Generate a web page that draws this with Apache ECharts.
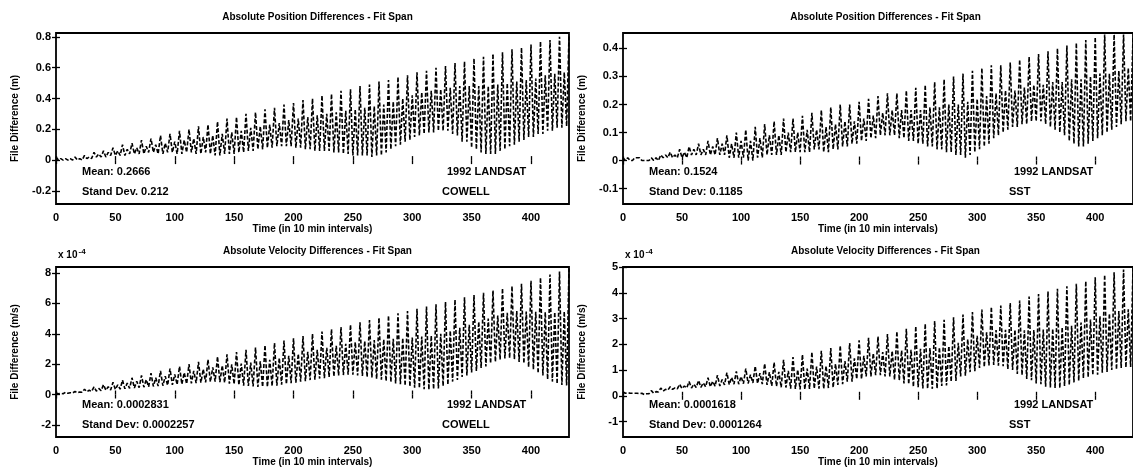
<!DOCTYPE html>
<html>
<head>
<meta charset="utf-8">
<script src="https://cdn.jsdelivr.net/npm/echarts@6/dist/echarts.min.js"></script>
<style>
html,body{margin:0;padding:0;background:#fff;}
#c{width:1133px;height:473px;}
</style>
</head>
<body>
<div id="c"></div>
<script>
// ---- data ----
const timeSteps = [0,2,4,6,8,10,12,14,16,18,20,22,24,26,28,30,32,34,36,38,40,42,44,46,48,50,52,54,56,58,60,62,64,66,68,70,72,74,76,78,80,82,84,86,88,90,92,94,96,98,100,102,104,106,108,110,112,114,116,118,120,122,124,126,128,130,132,134,136,138,140,142,144,146,148,150,152,154,156,158,160,162,164,166,168,170,172,174,176,178,180,182,184,186,188,190,192,194,196,198,200,202,204,206,208,210,212,214,216,218,220,222,224,226,228,230,232,234,236,238,240,242,244,246,248,250,252,254,256,258,260,262,264,266,268,270,272,274,276,278,280,282,284,286,288,290,292,294,296,298,300,302,304,306,308,310,312,314,316,318,320,322,324,326,328,330,332,334,336,338,340,342,344,346,348,350,352,354,356,358,360,362,364,366,368,370,372,374,376,378,380,382,384,386,388,390,392,394,396,398,400,402,404,406,408,410,412,414,416,418,420,422,424,426,428,430,432];

// position difference, COWELL (m)
const posCowell = [0.02,0.00,0.01,0.00, 0.01,0.00,0.01,0.00, 0.02,0.00,0.01,0.00, 0.03,0.01,0.02,0.01, 0.05,0.02,0.04,0.02, 0.06,0.02,0.05,0.03, 0.08,0.03,0.06,0.03, 0.10,0.03,0.07,0.04, 0.11,0.04,0.08,0.04, 0.13,0.04,0.09,0.05,
0.14,0.05,0.10,0.04, 0.16,0.04,0.11,0.05, 0.17,0.05,0.12,0.04, 0.19,0.04,0.13,0.05, 0.20,0.05,0.14,0.04, 0.22,0.04,0.15,0.05, 0.23,0.04,0.16,0.03, 0.25,0.03,0.17,0.04, 0.27,0.04,0.18,0.04, 0.28,0.05,0.19,0.05,
0.30,0.06,0.21,0.06, 0.31,0.07,0.22,0.07, 0.33,0.08,0.23,0.08, 0.34,0.09,0.24,0.09, 0.36,0.09,0.26,0.09, 0.37,0.08,0.27,0.08, 0.39,0.07,0.28,0.07, 0.40,0.06,0.29,0.06, 0.42,0.06,0.30,0.06, 0.43,0.05,0.31,0.05,
0.45,0.04,0.32,0.04, 0.46,0.03,0.33,0.03, 0.48,0.03,0.34,0.03, 0.49,0.02,0.35,0.03, 0.51,0.03,0.36,0.05, 0.52,0.07,0.38,0.09, 0.54,0.10,0.40,0.12, 0.55,0.13,0.42,0.15, 0.57,0.16,0.44,0.17, 0.58,0.18,0.45,0.18,
0.60,0.19,0.46,0.19, 0.61,0.19,0.47,0.17, 0.63,0.16,0.48,0.12, 0.64,0.12,0.48,0.08, 0.66,0.07,0.48,0.05, 0.67,0.04,0.48,0.04, 0.69,0.04,0.49,0.06, 0.70,0.07,0.50,0.09, 0.72,0.10,0.51,0.12, 0.73,0.13,0.52,0.15,
0.75,0.15,0.53,0.17, 0.77,0.17,0.55,0.19, 0.78,0.19,0.56,0.21, 0.80,0.21,0.57,0.22, 0.81];

// position difference, SST (m)
const posSst = [0.01,0.00,0.01,0.00, 0.00,0.01,0.01,0.01, 0.00,0.00,0.00,0.00, 0.01,0.00,0.01,0.00, 0.02,0.01,0.02,0.01, 0.03,0.01,0.02,0.01, 0.04,0.01,0.03,0.01, 0.05,0.02,0.04,0.02, 0.06,0.02,0.04,0.02, 0.07,0.02,0.05,0.02,
0.08,0.02,0.06,0.02, 0.09,0.01,0.06,0.01, 0.10,0.01,0.07,0.01, 0.11,0.00,0.07,0.00, 0.12,0.01,0.08,0.01, 0.13,0.02,0.09,0.02, 0.14,0.02,0.09,0.02, 0.15,0.03,0.10,0.03, 0.15,0.03,0.10,0.03, 0.16,0.03,0.11,0.03,
0.17,0.04,0.11,0.04, 0.18,0.03,0.12,0.03, 0.19,0.04,0.13,0.04, 0.20,0.05,0.14,0.05, 0.20,0.06,0.14,0.06, 0.21,0.07,0.15,0.07, 0.22,0.08,0.16,0.08, 0.23,0.09,0.17,0.09, 0.24,0.09,0.18,0.09, 0.24,0.08,0.18,0.08,
0.25,0.07,0.18,0.07, 0.26,0.06,0.18,0.06, 0.27,0.05,0.19,0.05, 0.28,0.04,0.19,0.04, 0.29,0.03,0.20,0.03, 0.30,0.02,0.20,0.02, 0.31,0.01,0.21,0.02, 0.32,0.03,0.22,0.04, 0.33,0.05,0.23,0.06, 0.34,0.08,0.24,0.09,
0.34,0.10,0.25,0.11, 0.35,0.12,0.25,0.12, 0.36,0.13,0.26,0.13, 0.37,0.14,0.27,0.14, 0.38,0.14,0.27,0.13, 0.39,0.12,0.28,0.11, 0.40,0.10,0.28,0.09, 0.41,0.07,0.29,0.06, 0.42,0.05,0.29,0.05, 0.43,0.06,0.30,0.07,
0.44,0.08,0.31,0.09, 0.45,0.10,0.31,0.11, 0.45,0.12,0.32,0.13, 0.45,0.14,0.33,0.14, 0.44];

// velocity difference, COWELL (x 1e-4 m/s)
const velCowell = [0.10,0.05,0.08,0.05, 0.15,0.08,0.12,0.10, 0.20,0.12,0.17,0.15, 0.35,0.18,0.28,0.20, 0.50,0.22,0.40,0.25, 0.65,0.28,0.52,0.30, 0.80,0.33,0.64,0.35, 0.95,0.38,0.75,0.40, 1.10,0.43,0.87,0.45, 1.25,0.48,0.98,0.50,
1.40,0.53,1.10,0.55, 1.55,0.58,1.21,0.60, 1.70,0.63,1.33,0.65, 1.85,0.68,1.44,0.70, 2.00,0.73,1.56,0.75, 2.15,0.78,1.67,0.80, 2.30,0.83,1.79,0.85, 2.50,0.82,1.91,0.78, 2.65,0.72,1.98,0.68, 2.80,0.62,2.04,0.58,
2.95,0.56,2.11,0.53, 3.10,0.50,2.19,0.50, 3.25,0.50,2.29,0.55, 3.40,0.58,2.41,0.65, 3.55,0.68,2.55,0.75, 3.70,0.78,2.68,0.85, 3.85,0.88,2.81,0.95, 4.00,0.98,2.94,1.05, 4.15,1.08,3.08,1.15, 4.30,1.18,3.21,1.25,
4.45,1.28,3.34,1.30, 4.60,1.30,3.45,1.25, 4.75,1.22,3.52,1.15, 4.90,1.12,3.58,1.02, 5.05,0.98,3.63,0.88, 5.20,0.82,3.67,0.72, 5.35,0.68,3.72,0.58, 5.50,0.52,3.76,0.45, 5.65,0.42,3.82,0.35, 5.80,0.32,3.88,0.35,
5.95,0.40,4.00,0.55, 6.10,0.65,4.20,0.85, 6.25,0.95,4.40,1.15, 6.40,1.25,4.60,1.45, 6.55,1.55,4.80,1.75, 6.70,1.85,5.00,2.05, 6.85,2.15,5.20,2.30, 7.00,2.38,5.38,2.40, 7.15,2.32,5.50,2.15, 7.30,2.05,5.46,1.80,
7.50,1.65,5.45,1.40, 7.70,1.25,5.44,1.00, 7.90,0.85,5.43,0.70, 8.10,0.62,5.48,0.60, 8.30];

// velocity difference, SST (x 1e-4 m/s)
const velSst = [0.15,0.10,0.12,0.10, 0.10,0.10,0.10,0.08, 0.10,0.05,0.08,0.08, 0.20,0.10,0.16,0.15, 0.30,0.18,0.25,0.22, 0.35,0.25,0.31,0.27, 0.45,0.28,0.38,0.30, 0.55,0.30,0.45,0.32, 0.60,0.33,0.50,0.35, 0.70,0.35,0.56,0.37,
0.80,0.38,0.63,0.42, 0.90,0.43,0.71,0.45, 0.95,0.45,0.75,0.47, 1.05,0.48,0.82,0.50, 1.15,0.48,0.88,0.45, 1.25,0.42,0.92,0.38, 1.30,0.37,0.93,0.33, 1.40,0.32,0.97,0.28, 1.50,0.27,1.01,0.25, 1.60,0.25,1.06,0.27,
1.70,0.28,1.13,0.28, 1.75,0.27,1.16,0.30, 1.85,0.32,1.24,0.42, 1.95,0.45,1.35,0.55, 2.05,0.55,1.45,0.65, 2.15,0.65,1.55,0.75, 2.25,0.75,1.65,0.80, 2.30,0.80,1.70,0.75, 2.40,0.75,1.74,0.62, 2.50,0.60,1.76,0.48,
2.60,0.45,1.79,0.35, 2.70,0.33,1.82,0.28, 2.80,0.27,1.85,0.27, 2.90,0.28,1.88,0.38, 2.95,0.40,1.93,0.55, 3.05,0.58,2.06,0.75, 3.15,0.78,2.20,0.92, 3.25,0.95,2.33,1.08, 3.35,1.12,2.46,1.18, 3.45,1.20,2.55,1.17,
3.50,1.15,2.56,1.03, 3.60,1.00,2.56,0.85, 3.70,0.80,2.54,0.65, 3.85,0.60,2.55,0.48, 3.95,0.45,2.57,0.35, 4.05,0.32,2.60,0.30, 4.15,0.30,2.66,0.38, 4.25,0.42,2.72,0.52, 4.35,0.58,2.84,0.68, 4.45,0.72,2.96,0.80,
4.60,0.82,3.09,0.90, 4.70,0.92,3.19,1.00, 4.80,1.02,3.29,1.08, 4.90,1.10,3.36,1.12, 4.95];

const xTicks = [0,50,100,150,200,250,300,350,400];
const posCowellTicks = [-0.2,0,0.2,0.4,0.6,0.8];
const posSstTicks = [-0.1,0,0.1,0.2,0.3,0.4];
const velCowellTicks = [-2,0,2,4,6,8];
const velSstTicks = [-1,0,1,2,3,4,5];

const titles = ['Absolute Position Differences - Fit Span','Absolute Position Differences - Fit Span',
                'Absolute Velocity Differences - Fit Span','Absolute Velocity Differences - Fit Span'];
const yNames = ['File Difference (m)','File Difference (m)','File Difference (m/s)','File Difference (m/s)'];
const meanTexts = ['Mean: 0.2666','Mean: 0.1524','Mean: 0.0002831','Mean: 0.0001618'];
const sdTexts = ['Stand Dev. 0.212','Stand Dev: 0.1185','Stand Dev: 0.0002257','Stand Dev: 0.0001264'];
const caseTexts = ['1992 LANDSAT','1992 LANDSAT','1992 LANDSAT','1992 LANDSAT'];
const methodTexts = ['COWELL','SST','COWELL','SST'];

// ---- layout ----
const panels = [
  {values: posCowell, ticks: posCowellTicks, min: -0.285, max: 0.825, left: 56, top: 33, width: 513, height: 171},
  {values: posSst, ticks: posSstTicks, min: -0.155, max: 0.455, left: 623, top: 33, width: 515, height: 171},
  {values: velCowell, ticks: velCowellTicks, min: -2.8, max: 8.4, left: 56, top: 267, width: 513, height: 170},
  {values: velSst, ticks: velSstTicks, min: -1.6, max: 5, left: 623, top: 267, width: 515, height: 170}
];
const FONT = 'Liberation Sans, Arial, sans-serif';
const xMax = 432;

const grid = [], xAxis = [], yAxis = [], series = [], title = [], graphic = [];
panels.forEach((p, i) => {
  grid.push({left: p.left, top: p.top, width: p.width, height: p.height, show: true,
             borderColor: '#000', borderWidth: 1.8, backgroundColor: 'transparent'});
});
const tickStyle = {color: '#000', width: 1.3};
panels.forEach((p, i) => {
  xAxis.push({gridIndex: i, type: 'value', min: 0, max: xMax, position: 'bottom',
    axisLine: {show: false},
    axisTick: {show: true, inside: true, length: 4, customValues: xTicks, lineStyle: tickStyle},
    axisLabel: {show: true, customValues: xTicks, color: '#000', fontFamily: FONT, fontSize: 11, fontWeight: 'bold', margin: 8,
                formatter: v => String(v)},
    splitLine: {show: false},
    name: 'Time (in 10 min intervals)', nameLocation: 'middle', nameGap: 20,
    nameTextStyle: {color: '#000', fontFamily: FONT, fontSize: 10, fontWeight: 'bold'}});
  yAxis.push({gridIndex: i, type: 'value', min: p.min, max: p.max, position: 'left',
    axisLine: {show: false},
    axisTick: {show: true, inside: true, length: 4, customValues: p.ticks, lineStyle: tickStyle},
    axisLabel: {show: true, customValues: p.ticks, color: '#000', fontFamily: FONT, fontSize: 11, fontWeight: 'bold', margin: 5,
                formatter: v => String(Math.round(v * 1000) / 1000)},
    splitLine: {show: false},
    name: yNames[i], nameLocation: 'middle', nameGap: 36, nameRotate: 90,
    nameTextStyle: {color: '#000', fontFamily: FONT, fontSize: 10, fontWeight: 'bold'}});
});
panels.forEach((p, i) => {
  xAxis.push({gridIndex: i, type: 'value', min: 0, max: xMax, position: 'top',
    axisLine: {show: false}, axisLabel: {show: false}, splitLine: {show: false},
    axisTick: {show: true, inside: true, length: 4, customValues: xTicks, lineStyle: tickStyle}});
  yAxis.push({gridIndex: i, type: 'value', min: p.min, max: p.max, position: 'right',
    axisLine: {show: false}, axisLabel: {show: false}, splitLine: {show: false},
    axisTick: {show: true, inside: true, length: 4, customValues: p.ticks, lineStyle: tickStyle}});
});
panels.forEach((p, i) => {
  const n = Math.min(timeSteps.length, p.values.length);
  const data = [];
  for (let k = 0; k < n; k++) data.push([timeSteps[k], p.values[k]]);
  series.push({type: 'line', xAxisIndex: i, yAxisIndex: i, data: data, showSymbol: false, symbol: 'none',
    lineStyle: {color: '#000', width: 1.6, type: [4, 2]}, animation: false, silent: true, clip: true});

  title.push({text: titles[i], left: p.left + p.width / 2, top: p.top - 26, textAlign: 'center',
    textStyle: {color: '#000', fontFamily: FONT, fontSize: 10, fontWeight: 'bold'}});

  const bottom = p.top + p.height;
  const txt = (s, x, y) => ({type: 'text', left: x, top: y, style: {text: s, fill: '#000',
      font: 'bold 11px ' + FONT}, z: 10});
  graphic.push(txt(meanTexts[i], p.left + 26, bottom - 38));
  graphic.push(txt(sdTexts[i], p.left + 26, bottom - 18));
  graphic.push(txt(caseTexts[i], p.left + 391, bottom - 38));
  graphic.push(txt(methodTexts[i], p.left + 386, bottom - 18));
});
// exponent labels for velocity panels
[2, 3].forEach(i => {
  const p = panels[i];
  graphic.push({type: 'text', left: p.left + 2, top: p.top - 19,
    style: {text: '{b|x 10}{s|-4}', rich: {b: {fontFamily: FONT, fontSize: 10, fontWeight: 'bold', fill: '#000'},
      s: {fontFamily: FONT, fontSize: 8, fontWeight: 'bold', fill: '#000', verticalAlign: 'top', padding: [0, 0, 6, 1]}}}, z: 10});
});

const chart = echarts.init(document.getElementById('c'), null, {renderer: 'canvas'});
chart.setOption({backgroundColor: '#fff', animation: false, grid, xAxis, yAxis, series, title, graphic});
</script>
</body>
</html>
